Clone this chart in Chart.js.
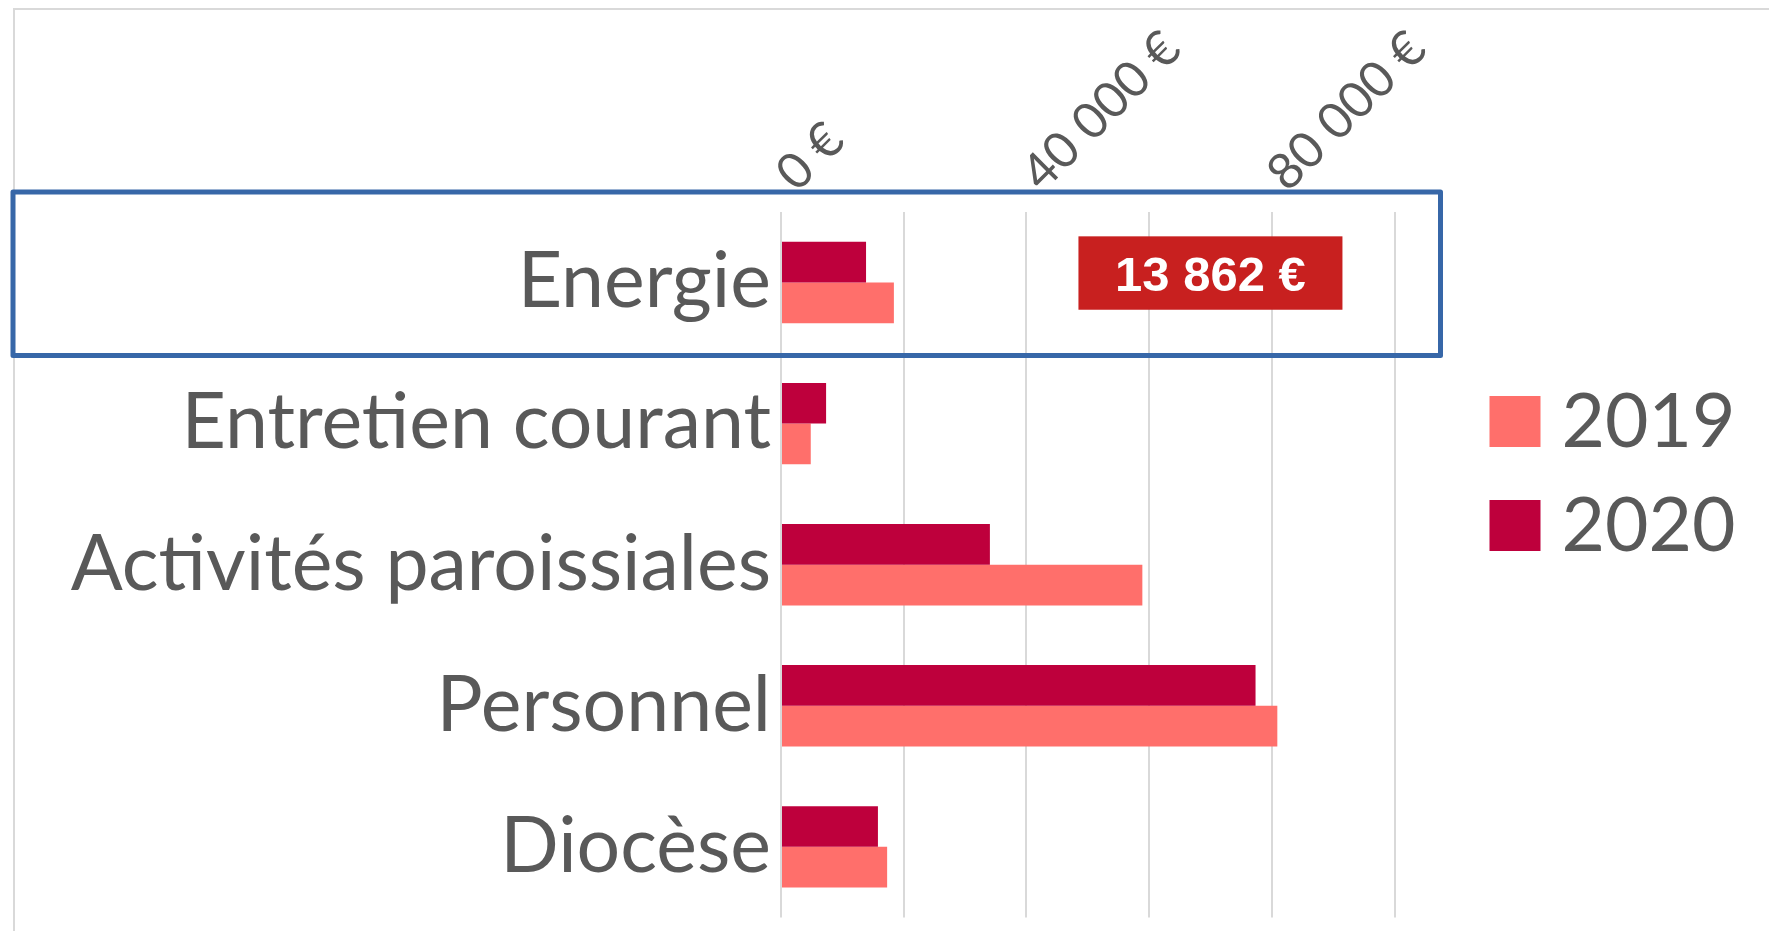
<!DOCTYPE html>
<html><head><meta charset="utf-8">
<script src="https://cdn.jsdelivr.net/npm/chart.js@4"></script>
<style>html,body{margin:0;padding:0;background:#fff;} canvas{display:block;}</style>
</head><body>
<canvas id="c" width="1769" height="931"></canvas>
<script>
const categories = ['Energie', 'Entretien courant', 'Activités paroissiales', 'Personnel', 'Diocèse'];
const seriesLabels = ['2019', '2020'];
const values2019 = [18400, 4850, 58900, 80900, 17300];
const values2020 = [13862, 7350, 34050, 77350, 15800];
const xTickValues = [0, 20000, 40000, 60000, 80000, 100000];
const xTickLabelled = [0, 40000, 80000];
const highlightIndex = 0;

const COL2019 = '#FF6F6B';
const COL2020 = '#BE003C';
const TEXT = '#595959';
const GRID = '#D9D9D9';

function fmtEuro(v) {
  return String(Math.round(v)).replace(/\B(?=(\d{3})+(?!\d))/g, ' ') + ' €';
}

const decorPlugin = {
  id: 'decor',
  beforeDraw(chart) {
    const ctx = chart.ctx;
    ctx.save();
    ctx.fillStyle = '#fff';
    ctx.fillRect(0, 0, chart.width, chart.height);
    ctx.strokeStyle = GRID;
    ctx.lineWidth = 2;
    ctx.beginPath();
    ctx.moveTo(14, chart.height);
    ctx.lineTo(14, 9);
    ctx.lineTo(chart.width, 9);
    ctx.stroke();
    ctx.restore();
  },
  afterDraw(chart) {
    const ctx = chart.ctx;
    const xs = chart.scales.x, ys = chart.scales.y;
    const cy = ys.getPixelForValue(highlightIndex);
    ctx.save();
    // highlight frame
    ctx.strokeStyle = '#3767A8';
    ctx.lineWidth = 5;
    ctx.lineJoin = 'round';
    const right = xs.getPixelForValue(100000) + 46;
    ctx.strokeRect(13, cy - 90.5, right - 13, 163.5);
    // value label box
    const v = chart.data.datasets[0].data[highlightIndex];
    const bx = xs.getPixelForValue(70000);
    const by = cy - 9.5;
    ctx.fillStyle = '#C8201F';
    ctx.fillRect(bx - 132, by - 36.7, 264, 73.4);
    ctx.fillStyle = '#fff';
    ctx.font = 'bold 49px "Liberation Sans", Arial, sans-serif';
    ctx.textAlign = 'center';
    ctx.textBaseline = 'middle';
    ctx.fillText(fmtEuro(v), bx, by + 4);
    // legend
    const ds = chart.data.datasets.slice().reverse();
    const lx = chart.chartArea.right + 95;
    const midY = chart.height / 2 + 8;
    ctx.font = '75px Lato';
    ctx.textAlign = 'left';
    ctx.textBaseline = 'middle';
    ds.forEach((d, i) => {
      const yc = midY + (i - 0.5) * 104;
      ctx.fillStyle = d.backgroundColor;
      ctx.fillRect(lx, yc - 25.5, 51, 51);
      ctx.fillStyle = TEXT;
      ctx.fillText(d.label, lx + 72, yc + 1);
    });
    ctx.restore();
  }
};

new Chart(document.getElementById('c'), {
  type: 'bar',
  data: {
    labels: categories,
    datasets: [
      { label: seriesLabels[1], data: values2020, backgroundColor: COL2020 },
      { label: seriesLabels[0], data: values2019, backgroundColor: COL2019 }
    ]
  },
  options: {
    indexAxis: 'y',
    responsive: false,
    animation: false,
    layout: { padding: { left: 0, top: 0, right: 374.5, bottom: 13.6 } },
    datasets: { bar: { categoryPercentage: 0.577, barPercentage: 1.0 } },
    plugins: { legend: { display: false }, tooltip: { enabled: false } },
    scales: {
      x: {
        position: 'top',
        min: 0, max: 100000,
        afterBuildTicks: (s) => { s.ticks = xTickValues.map(v => ({ value: v })); },
        afterFit: (s) => { s.height = 212; s.paddingLeft = 0; s.paddingRight = 0; },
        grid: { color: GRID, lineWidth: 2, drawTicks: false },
        border: { display: false },
        ticks: {
          autoSkip: false,
          minRotation: 45, maxRotation: 45,
          padding: 9,
          labelOffset: 47,
          color: TEXT,
          font: { family: 'Lato', size: 50 },
          callback: (v) => xTickLabelled.includes(v) ? fmtEuro(v) : ''
        }
      },
      y: {
        afterFit: (s) => { s.width = 781; s.paddingTop = 0; s.paddingBottom = 0; },
        grid: { display: false, drawTicks: false },
        border: { display: false },
        ticks: {
          autoSkip: false,
          padding: 10,
          color: TEXT,
          font: { family: 'Lato', size: 77 }
        }
      }
    }
  },
  plugins: [decorPlugin]
});
</script>
</body></html>
